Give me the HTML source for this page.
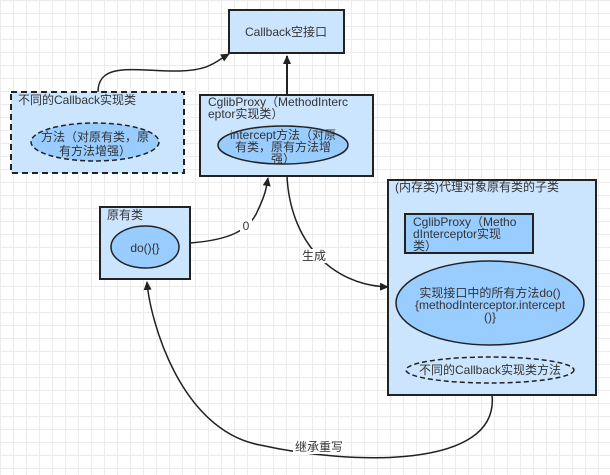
<!DOCTYPE html>
<html><head><meta charset="utf-8"><style>
html,body{margin:0;padding:0;}
body{width:610px;height:475px;overflow:hidden;background:#fff;
background-image:linear-gradient(#ececec 1px,transparent 1px),linear-gradient(90deg,#ececec 1px,transparent 1px);
background-size:13px 13px;}
svg{position:absolute;left:0;top:0;}
text{font-family:"Liberation Sans","Noto Sans CJK SC",sans-serif;font-size:12px;fill:#333;}
</style></head><body>
<svg width="610" height="475" viewBox="0 0 610 475">
<defs><marker id="a" markerWidth="10" markerHeight="10" refX="8" refY="5" orient="auto" markerUnits="userSpaceOnUse">
<path d="M0,1 L9,5 L0,9 Z" fill="#222"/></marker></defs>
<g stroke="#222" stroke-width="2">
<rect x="229" y="10" width="115" height="43" fill="#cce5ff"/>
<rect x="11" y="92" width="173" height="81" fill="#cce5ff" stroke-dasharray="6,4"/>
<ellipse cx="95" cy="142" rx="64" ry="19" fill="#99ccff" stroke-width="1.5" stroke-dasharray="5,3"/>
<rect x="200" y="95" width="173" height="81" fill="#cce5ff"/>
<ellipse cx="283" cy="145" rx="65" ry="19" fill="#99ccff" stroke-width="1.5"/>
<rect x="100" y="207" width="90" height="72" fill="#cce5ff"/>
<ellipse cx="145" cy="247" rx="34" ry="21" fill="#99ccff" stroke-width="1.5"/>
<rect x="388" y="180" width="208" height="215" fill="#cce5ff"/>
<rect x="405" y="214" width="128" height="39" fill="#99ccff"/>
<ellipse cx="490" cy="303" rx="94" ry="42" fill="#99ccff" stroke-width="1.5"/>
<ellipse cx="490" cy="370" rx="84" ry="13" fill="none" stroke-width="1.5" stroke-dasharray="5,3"/>
</g>
<g stroke="#222" stroke-width="1.5" fill="none">
<path d="M98,92 C98,60 140,72 180,71 C210,70 215,62 229,54" marker-end="url(#a)"/>
<path d="M287,95 L287,56" stroke-width="2" marker-end="url(#a)"/>
<path d="M190,243 C230,240 250,230 258,210 C265,195 266,190 268,178" marker-end="url(#a)"/>
<path d="M287,176 C290,240 330,285 388,287" marker-end="url(#a)"/>
<path d="M492,395 C500,470 350,465 260,445 C180,430 150,320 147,282" marker-end="url(#a)"/>
</g>
<rect x="240" y="219" width="12" height="14" fill="#fff"/>
<text x="246" y="230" text-anchor="middle">0</text>
<rect x="301" y="249" width="26" height="14" fill="#fff"/>
<text x="314" y="260" text-anchor="middle">生成</text>
<rect x="293" y="440" width="52" height="14" fill="#fff"/>
<text x="319" y="451" text-anchor="middle">继承重写</text>
<text x="286" y="36" text-anchor="middle">Callback空接口</text>
<text x="18" y="104">不同的Callback实现类</text>
<text x="95" y="141" text-anchor="middle">方法（对原有类，原</text>
<text x="95" y="155" text-anchor="middle">有方法增强）</text>
<text x="208" y="106">CglibProxy（MethodInterc</text>
<text x="208" y="118">eptor实现类）</text>
<text x="283" y="139" text-anchor="middle">intercept方法（对原</text>
<text x="283" y="151" text-anchor="middle">有类，原有方法增</text>
<text x="283" y="163" text-anchor="middle">强）</text>
<text x="107" y="219">原有类</text>
<text x="145" y="252" text-anchor="middle">do(){}</text>
<text x="395" y="191">(内存类)代理对象原有类的子类</text>
<text x="413" y="226">CglibProxy（Metho</text>
<text x="413" y="238">dInterceptor实现</text>
<text x="413" y="250">类）</text>
<text x="490" y="297" text-anchor="middle">实现接口中的所有方法do()</text>
<text x="490" y="309" text-anchor="middle">{methodInterceptor.intercept</text>
<text x="490" y="321" text-anchor="middle">()}</text>
<text x="490" y="374" text-anchor="middle">不同的Callback实现类方法</text>
</svg>
</body></html>
